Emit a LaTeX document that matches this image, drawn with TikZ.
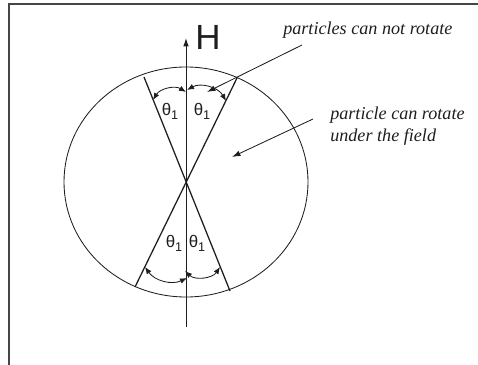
\documentclass[tikz,border=0pt]{standalone}
\usepackage{fontspec}
\setmainfont{Liberation Serif}
\setsansfont{Liberation Sans}
\usetikzlibrary{arrows.meta}
\definecolor{cFrame}{RGB}{70,70,70}
\definecolor{cInk}  {RGB}{30,30,30}
\newcommand{\thone}{θ\raisebox{-0.45ex}{\fontsize{9}{9}\selectfont 1}}
\tikzset{
  axisline/.style={cInk,line width=0.7pt},
  rodline/.style={cInk,line width=0.9pt},
  anglearc/.style={cInk,line width=0.6pt,{Latex[length=5pt,width=4pt]}-{Latex[length=5pt,width=4pt]}},
  pointer/.style={cInk,line width=0.6pt,-{Latex[length=6pt,width=4pt]}},
  anglelbl/.style={font=\sffamily\fontsize{12}{12}\selectfont,text=cInk,inner sep=0pt},
  notelbl/.style={font=\rmfamily\itshape\fontsize{12.9}{16}\selectfont,text=cInk,inner sep=0pt,align=left}
}

\begin{document}
\begin{tikzpicture}[x=0.025cm,y=-0.025cm]
\useasboundingbox (0,0) rectangle (478,365);

% moldura
\draw[cFrame,line width=0.8pt] (9,365) -- (9,4) -- (478,4);

% =================== GRAO ===================
\coordinate (O) at (186,182);
\draw[cInk,line width=0.6pt] (O) ellipse [x radius=122, y radius=115];

% eixo do campo
\coordinate (axB) at (186,327);
\coordinate (axT) at (186,38);
\draw[axisline,-{Latex[length=6pt,width=4pt]}] (axB) -- (axT);
\node[font=\sffamily\Huge,text=cInk,inner sep=0pt] (H) at (208,37) {H};

% limites do cone
\coordinate (r1a) at (135,287);
\coordinate (r1b) at (237,78);
\coordinate (r2a) at (144,77);
\coordinate (r2b) at (230,291);
\draw[rodline] (r1a) -- (r1b);
\draw[rodline] (r2a) -- (r2b);

% arcos de angulo
\coordinate (tl) at (153,100);
\coordinate (tm1) at (186,92);
\coordinate (tm2) at (187,90);
\coordinate (tr) at (226,101);
\coordinate (bl) at (145,267);
\coordinate (bm1) at (187,278);
\coordinate (bm2) at (185,271);
\coordinate (br) at (220,267);
\draw[anglearc] (tl) to[bend left=45] (tm1);
\draw[anglearc] (tm2) to[bend left=45] (tr);
\draw[anglearc] (bl) to[bend right=40] (bm1);
\draw[anglearc] (bm2) to[bend right=50] (br);

\node[anglelbl] (a1) at (170,111) {\thone};
\node[anglelbl] (a2) at (202,111) {\thone};
\node[anglelbl] (a3) at (174,243) {\thone};
\node[anglelbl] (a4) at (197,243) {\thone};

% =================== NOTAS ===================
\node[notelbl,anchor=west] (lblNoRot) at (283,30) {particles can not rotate};
\coordinate (pn) at (302,45);
\coordinate (pnTip) at (207,92);
\draw[pointer] (pn) -- (pnTip);

\node[notelbl,anchor=west] (lblRot) at (330,126)
  {particle can rotate\\under the field};
\coordinate (pr) at (313,119);
\coordinate (prTip) at (232,157);
\draw[pointer] (pr) -- (prTip);

\end{tikzpicture}
\end{document}
